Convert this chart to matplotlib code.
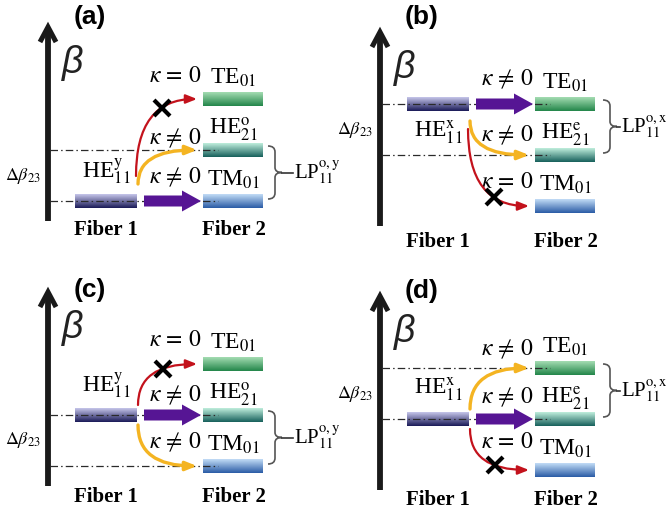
import numpy as np
import matplotlib
matplotlib.use('Agg')
import matplotlib.pyplot as plt
from matplotlib.colors import LinearSegmentedColormap
from matplotlib.patches import FancyArrowPatch, PathPatch
from matplotlib.path import Path

plt.rcParams['mathtext.fontset'] = 'stix'
plt.rcParams['font.family'] = ['Liberation Serif', 'DejaVu Serif']

# ---- diagram content ----
panel_tags = ['(a)', '(b)', '(c)', '(d)']
input_pol = ['y', 'x', 'y', 'x']            # HE11 polarisation in fiber 1
he21_type = ['o', 'e', 'o', 'e']            # HE21 even / odd
lp_labels = ['o,y', 'o,x', 'o,y', 'o,x']
fiber2_modes = ['TE', 'HE', 'TM']           # top to bottom
fiber2_rank = [3, 2, 1]                     # beta rank of fiber 2 modes
input_rank = [1, 3, 2, 2]                   # beta rank of HE11 in fiber 1
kappa_zero = [[True, False, False],
              [False, False, True],
              [True, False, False],
              [False, False, True]]
lp_pair = [(2, 1), (3, 2), (2, 1), (3, 2)]  # ranks grouped into LP11

# ---- layout (pixels) ----
origins = [(0, -1), (332, 4), (0, 264), (332, 268)]
tag_y = [17, 17, 290, 291]
fiber_label_y = [230, 242, 497, 500]
he11_above = [True, False, True, True]
kappa_dy = [[-22, -12, -24], [-25, -20, -23], [-23, -20, -24], [-19, -22, -27]]
brace_x = [268, 271, 268, 271]
lp_gap = [11, 3, 11, 3]
level_base = 202
level_step = 51

bar_colors = {'in': ('#c6c6ea', '#1a1a58'),
              'TE': ('#a4dcb2', '#23864a'),
              'HE': ('#bfeedc', '#17605c'),
              'TM': ('#c2dcf6', '#2a5ca6')}
mode_names = {'TE': r'TE$_{01}$', 'TM': r'TM$_{01}$'}
red = '#c3121c'
yellow = '#f4b422'
purple = '#561594'


def grad_bar(ax, x0, x1, yc, h, c_top, c_bot):
    cmap = LinearSegmentedColormap.from_list('g', [c_top, c_bot])
    ax.imshow(np.linspace(0, 1, 64).reshape(-1, 1), cmap=cmap,
              extent=[x0, x1, yc + h / 2, yc - h / 2], aspect='auto',
              origin='upper', interpolation='bilinear', zorder=2)


def curve(ax, p0, p1, color, lw):
    ctrl = (p0[0], p1[1])
    path = Path([p0, ctrl, p1], [Path.MOVETO, Path.CURVE3, Path.CURVE3])
    ax.add_patch(FancyArrowPatch(path=path, arrowstyle='-|>,head_length=0.55,head_width=0.22',
                                 mutation_scale=12, color=color, lw=lw,
                                 shrinkA=0, shrinkB=0, zorder=4))
    return p0, ctrl, p1


def brace(ax, x, yt, yb, gap):
    ym = (yt + yb) / 2
    v = [(x, yt), (x + 7, yt), (x + 7, yt + 6),
         (x + 7, ym - 5), (x + 7, ym), (x + 14, ym),
         (x + 7, ym), (x + 7, ym + 5),
         (x + 7, yb - 6), (x + 7, yb), (x, yb)]
    c = [Path.MOVETO, Path.CURVE3, Path.CURVE3,
         Path.LINETO, Path.CURVE3, Path.CURVE3,
         Path.CURVE3, Path.CURVE3,
         Path.LINETO, Path.CURVE3, Path.CURVE3]
    ax.add_patch(PathPatch(Path(v, c), fill=False, ec='#555555', lw=1.2, zorder=3))
    ax.plot([x + 14, x + 14 + gap], [ym, ym], color='#333333', lw=1.2, zorder=3)
    return x + 15 + gap, ym


fig = plt.figure(figsize=(6.71, 5.12), dpi=100)
ax = fig.add_axes([0, 0, 1, 1])

for i in range(4):
    ox, oy = origins[i]

    def ly(rank):
        return oy + level_base - level_step * (rank - 1)

    # beta axis
    ax.plot([ox + 48, ox + 48], [oy + 222, oy + 30], color='#1a1a1a', lw=4.2,
            solid_capstyle='butt', zorder=3)
    ax.plot([ox + 40, ox + 48, ox + 56], [oy + 43, oy + 28, oy + 43], color='#1a1a1a',
            lw=3.6, solid_joinstyle='miter', solid_capstyle='butt', zorder=3)
    ax.text(ox + 90, tag_y[i], panel_tags[i], fontsize=19, fontweight='bold',
            family='Liberation Sans', ha='center', va='center')
    ax.text(ox + 73, oy + 64, 'β', fontsize=27, family='Liberation Sans', style='italic',
            ha='center', va='center', color='#222222')

    # LP11 group: dash-dot levels, bracket, delta beta
    yt, yb = ly(lp_pair[i][0]), ly(lp_pair[i][1])
    for yy in (yt, yb):
        ax.plot([ox + 50, ox + 218], [yy, yy], color='#2a2a2a', lw=0.9,
                ls=(0, (6, 2.5, 1.2, 2.5)), zorder=3)
    ax.text(ox + 23, (yt + yb) / 2, r'$\Delta\beta_{23}$', fontsize=13, ha='center', va='center')
    lx, lyy = brace(ax, ox + brace_x[i], yt - 4, yb - 2, lp_gap[i])
    ax.text(lx, lyy, 'LP$_{11}^{\\mathrm{%s}}$' % lp_labels[i],
            fontsize=15, ha='left', va='center')

    # fiber 1 mode
    y_in = ly(input_rank[i])
    grad_bar(ax, ox + 75, ox + 137, y_in, 14, *bar_colors['in'])
    dy = -30 if he11_above[i] else 28
    ax.text(ox + 106, y_in + dy, 'HE$_{11}^{\\mathrm{%s}}$' % input_pol[i],
            fontsize=17, ha='center', va='center')

    # fiber 2 modes
    others = []
    for j, m in enumerate(fiber2_modes):
        y2 = ly(fiber2_rank[j])
        grad_bar(ax, ox + 203, ox + 263, y2, 14, *bar_colors[m])
        name = mode_names.get(m, 'HE$_{21}^{\\mathrm{%s}}$' % he21_type[i])
        ax.text(ox + 233, y2 - 21, name, fontsize=17, ha='center', va='center')
        kap = r'$\kappa\,=\,0$' if kappa_zero[i][j] else r'$\kappa\,\neq\,0$'
        ax.text(ox + 175, y2 + kappa_dy[i][j], kap, fontsize=17, ha='center', va='center')
        if fiber2_rank[j] == input_rank[i]:
            ax.arrow(ox + 144, y2, 57, 0, width=11, head_width=21, head_length=19,
                     length_includes_head=True, fc=purple, ec='none', zorder=4)
        else:
            others.append((j, y2))

    # coupling curves
    dirs = [np.sign(y2 - y_in) for _, y2 in others]
    same_side = dirs[0] == dirs[1]
    far = max(others, key=lambda o: abs(o[1] - y_in))[0]
    for j, y2 in others:
        d = np.sign(y2 - y_in)
        if same_side:
            off, sx = (25, 136) if j == far else (17, 138)
        else:
            off, sx = 10, 138
        p0 = (ox + sx, y_in + d * off)
        p1 = (ox + 197, y2)
        if kappa_zero[i][j]:
            a, c, b = curve(ax, p0, p1, red, 1.6)
            t = 0.65
            xm = (1 - t) ** 2 * a[0] + 2 * t * (1 - t) * c[0] + t ** 2 * b[0]
            ymk = (1 - t) ** 2 * a[1] + 2 * t * (1 - t) * c[1] + t ** 2 * b[1]
            ax.plot(xm, ymk, marker='x', ms=12, mew=3, color='black', zorder=5)
        else:
            curve(ax, p0, p1, yellow, 2.4)

    ax.text(ox + 106, fiber_label_y[i], 'Fiber 1', fontsize=15, fontweight='bold',
            ha='center', va='center')
    ax.text(ox + 234, fiber_label_y[i], 'Fiber 2', fontsize=15, fontweight='bold',
            ha='center', va='center')

ax.set_xlim(0, 671)
ax.set_ylim(512, 0)
ax.axis('off')
fig.savefig('out.png', dpi=100)
